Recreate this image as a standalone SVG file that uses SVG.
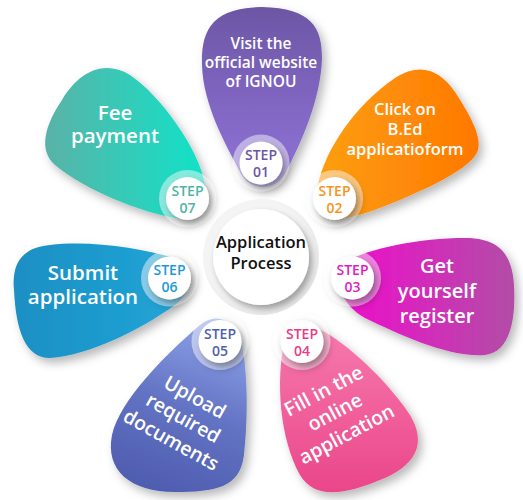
<svg xmlns="http://www.w3.org/2000/svg" width="523" height="500" viewBox="0 0 523 500">
<defs>
<style>
.pt{font-family:"Open Sans","Liberation Sans",sans-serif;font-weight:600;fill:#fff;text-anchor:middle}
.st{font-family:"Open Sans","Liberation Sans",sans-serif;font-weight:600;font-size:14px;text-anchor:middle}
.ct{font-family:"Open Sans","Liberation Sans",sans-serif;font-weight:600;font-size:16.5px;text-anchor:middle;fill:#111}
.halo{fill:#fff;fill-opacity:0.45}
.disc{fill:#fff;filter:url(#csh)}
.petal{filter:url(#psh)}
</style>
<filter id="psh" x="-20%" y="-20%" width="150%" height="150%"><feDropShadow dx="4" dy="5" stdDeviation="5" flood-color="#000" flood-opacity="0.28"/></filter>
<filter id="csh" x="-50%" y="-50%" width="200%" height="200%"><feDropShadow dx="3" dy="4" stdDeviation="3" flood-color="#000" flood-opacity="0.35"/></filter>
<filter id="hsh" x="-50%" y="-50%" width="200%" height="200%"><feDropShadow dx="2" dy="3" stdDeviation="3" flood-color="#000" flood-opacity="0.15"/></filter>
<linearGradient id="g1" x1="0" y1="0" x2="0" y2="1"><stop offset="0" stop-color="#6d56a5"/><stop offset="1" stop-color="#9174da"/></linearGradient>
<linearGradient id="g2" x1="0" y1="0" x2="1" y2="0"><stop offset="0" stop-color="#fd9f12"/><stop offset="1" stop-color="#ff7800"/></linearGradient>
<linearGradient id="g3" x1="0" y1="0" x2="1" y2="0"><stop offset="0" stop-color="#f00ccd"/><stop offset="1" stop-color="#b24da6"/></linearGradient>
<linearGradient id="g4" x1="0" y1="0" x2="0" y2="1"><stop offset="0" stop-color="#f77aae"/><stop offset="1" stop-color="#ea4689"/></linearGradient>
<linearGradient id="g5" x1="0.7" y1="0" x2="0.4" y2="1"><stop offset="0" stop-color="#8ea4ea"/><stop offset="0.5" stop-color="#6474c4"/><stop offset="1" stop-color="#4f5db0"/></linearGradient>
<linearGradient id="g6" x1="0" y1="0" x2="1" y2="0"><stop offset="0" stop-color="#1a8fc3"/><stop offset="1" stop-color="#22a6d8"/></linearGradient>
<linearGradient id="g7" x1="0" y1="0" x2="1" y2="0"><stop offset="0" stop-color="#5ab2a7"/><stop offset="1" stop-color="#10e3c9"/></linearGradient>
<radialGradient id="gc" cx="0.45" cy="0.45" r="0.6"><stop offset="0.75" stop-color="#f4f4f4"/><stop offset="1" stop-color="#e2e2e2"/></radialGradient>
</defs>
<rect width="523" height="500" fill="#fff"/>

<g id="petals">
<path class="petal" fill="url(#g1)" d="M240,172 C226,145 203,105 202,65 C201,30 212,8 262,7 C312,8 322,28 322,58 C321,100 300,145 286,172 C276,192 250,192 240,172 Z"/>
<path class="petal" fill="url(#g2)" d="M318,185 C325,150 355,105 395,78 C420,62 440,70 455,92 C468,112 482,135 478,150 C474,165 440,183 400,200 C370,212 345,222 330,218 C315,213 314,198 318,185 Z"/>
<path class="petal" fill="url(#g3)" d="M345,262 C370,248 420,238 465,238 C500,238 512,255 514,285 C516,320 510,352 485,355 C450,358 400,335 365,318 C340,305 330,272 345,262 Z"/>
<path class="petal" fill="url(#g4)" d="M285,340 C275,380 280,440 300,475 C315,500 345,495 385,478 C420,462 425,440 410,415 C390,385 355,350 325,332 C305,322 290,325 285,340 Z"/>
<path class="petal" fill="url(#g5)" d="M200,325 C165,355 120,400 112,435 C105,470 130,492 175,492 C215,492 240,488 244,455 C248,420 248,375 242,345 C235,318 215,312 200,325 Z"/>
<path class="petal" fill="url(#g6)" d="M175,258 C140,248 90,240 50,245 C20,248 12,265 14,290 C16,330 25,358 50,358 C90,355 140,330 175,305 C195,290 195,265 175,258 Z"/>
<path class="petal" fill="url(#g7)" d="M205,185 C200,150 160,95 130,75 C105,60 80,70 62,100 C45,125 38,150 55,165 C85,190 140,212 175,218 C200,222 210,205 205,185 Z"/>
</g>

<g id="center">
<circle cx="261" cy="257" r="58" fill="url(#gc)"/>
<circle class="disc" cx="261" cy="257" r="48"/>
<text class="ct" x="261" y="248">Application</text>
<text class="ct" x="261" y="269">Process</text>
</g>

<g id="step1">
<text class="pt" font-size="15.5" x="261" y="49">Visit the</text>
<text class="pt" font-size="15.5" x="261" y="68">official website</text>
<text class="pt" font-size="15.5" x="261" y="87">of IGNOU</text>
<circle class="halo" filter="url(#hsh)" cx="261" cy="163" r="28.5"/>
<circle class="disc" cx="261" cy="163" r="21.5"/>
<text class="st" fill="#6b55a6" x="261" y="160">STEP</text>
<text class="st" fill="#6b55a6" x="261" y="177">01</text>
</g>

<g id="step2">
<text class="pt" font-size="16.5" x="405" y="115">Click on</text>
<text class="pt" font-size="16.5" x="405" y="135">B.Ed</text>
<text class="pt" font-size="16.5" x="405" y="155">applicatioform</text>
<circle class="halo" filter="url(#hsh)" cx="334.5" cy="198.5" r="28.5"/>
<circle class="disc" cx="334.5" cy="198.5" r="21.5"/>
<text class="st" fill="#f7941d" x="334.5" y="195.5">STEP</text>
<text class="st" fill="#f7941d" x="334.5" y="212.5">02</text>
</g>

<g id="step3">
<text class="pt" font-size="20" x="437" y="273">Get</text>
<text class="pt" font-size="20" x="437" y="298">yourself</text>
<text class="pt" font-size="20" x="437" y="323">register</text>
<circle class="halo" filter="url(#hsh)" cx="352.5" cy="278" r="28.5"/>
<circle class="disc" cx="352.5" cy="278" r="21.5"/>
<text class="st" fill="#e01cc2" x="352.5" y="275">STEP</text>
<text class="st" fill="#e01cc2" x="352.5" y="292">03</text>
</g>

<g id="step4">
<g transform="translate(338,418) rotate(-28)">
<text class="pt" font-size="19.5" x="0" y="-24">Fill in the</text>
<text class="pt" font-size="19.5" x="0" y="0">online</text>
<text class="pt" font-size="19.5" x="0" y="25">application</text>
</g>
<circle class="halo" filter="url(#hsh)" cx="302" cy="341.5" r="28.5"/>
<circle class="disc" cx="302" cy="341.5" r="21.5"/>
<text class="st" fill="#ec3b83" x="302" y="338.5">STEP</text>
<text class="st" fill="#ec3b83" x="302" y="355.5">04</text>
</g>

<g id="step5">
<g transform="translate(180,424) rotate(29)">
<text class="pt" font-size="19.5" x="0" y="-24">Upload</text>
<text class="pt" font-size="19.5" x="0" y="0">required</text>
<text class="pt" font-size="19.5" x="0" y="25">documents</text>
</g>
<circle class="halo" filter="url(#hsh)" cx="220" cy="341.5" r="28.5"/>
<circle class="disc" cx="220" cy="341.5" r="21.5"/>
<text class="st" fill="#4e5fae" x="220" y="338.5">STEP</text>
<text class="st" fill="#4e5fae" x="220" y="355.5">05</text>
</g>

<g id="step6">
<text class="pt" font-size="20.5" x="83" y="280">Submit</text>
<text class="pt" font-size="20.5" x="83" y="304">application</text>
<circle class="halo" filter="url(#hsh)" cx="169.5" cy="278" r="28.5"/>
<circle class="disc" cx="169.5" cy="278" r="21.5"/>
<text class="st" fill="#1d9ad6" x="169.5" y="275">STEP</text>
<text class="st" fill="#1d9ad6" x="169.5" y="292">06</text>
</g>

<g id="step7">
<text class="pt" font-size="20.5" x="115" y="120">Fee</text>
<text class="pt" font-size="20.5" x="115" y="143">payment</text>
<circle class="halo" filter="url(#hsh)" cx="187.5" cy="198.5" r="28.5"/>
<circle class="disc" cx="187.5" cy="198.5" r="21.5"/>
<text class="st" fill="#4db6a5" x="187.5" y="195.5">STEP</text>
<text class="st" fill="#4db6a5" x="187.5" y="212.5">07</text>
</g>
</svg>
